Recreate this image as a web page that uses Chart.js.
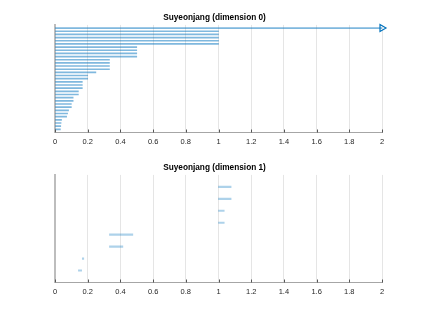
<!DOCTYPE html>
<html>
<head>
<meta charset="utf-8">
<script src="https://cdn.jsdelivr.net/npm/chart.js@4"></script>
<style>
  body { margin: 0; background: #fff; }
  .box { position: absolute; left: 0; width: 422px; }
  #b0 { top: 0; height: 158px; }
  #b1 { top: 158px; height: 159px; }
</style>
</head>
<body>
<div class="box" id="b0"><canvas id="dim0"></canvas></div>
<div class="box" id="b1"><canvas id="dim1"></canvas></div>
<script>
// barcode data
let titre = 'Suyeonjang';
let xTicks = [0, 0.2, 0.4, 0.6, 0.8, 1, 1.2, 1.4, 1.6, 1.8, 2];

let dim0Birth = [0,0,0,0,0,0,0,0,0,0,0,0,0,0,0,0,0,0,0,0,0,0,0,0,0,0,0,0,0,0,0,0,0];
let dim0Death = [Infinity, 1, 1, 1, 1, 1, 0.5, 0.5, 0.5, 0.5, 0.333, 0.333, 0.333, 0.333,
                 0.25, 0.2, 0.2, 0.167, 0.167, 0.167, 0.143, 0.143, 0.111, 0.111, 0.1, 0.1,
                 0.083, 0.077, 0.071, 0.04, 0.037, 0.035, 0.033];

let dim1Birth = [1, 1, 1, 1, 0.333, 0.333, 0.167, 0.143];
let dim1Death = [1.077, 1.077, 1.035, 1.035, 0.476, 0.415, 0.176, 0.163];

let xMax = xTicks[xTicks.length - 1];
let bleu = '#0072BD';

// petites graduations vers l'intérieur, comme dans matlab
let ticksInterieurs = {
    id: 'ticksInterieurs',
    afterDraw(chart) {
        let c = chart.ctx, x = chart.scales.x, a = chart.chartArea;
        c.save();
        c.strokeStyle = '#555';
        c.lineWidth = 1;
        xTicks.forEach(function(t) {
            let px = Math.round(x.getPixelForValue(t)) + 0.5;
            c.beginPath();
            c.moveTo(px, a.bottom);
            c.lineTo(px, a.bottom - 3);
            c.stroke();
        });
        c.restore();
    }
};

function createBarcode(ctx, births, deaths, dim, couleur, epaisseur, pad) {
    let bars = births.map(function(b, i) {
        let d = deaths[i] === Infinity ? xMax : deaths[i];
        return { x: [b, d], y: i + 1 };
    });
    let datasets = [{
        type: 'bar',
        data: bars,
        backgroundColor: couleur,
        borderWidth: 0,
        barThickness: epaisseur
    }];
    // flèche pour les barres infinies
    let infinis = [];
    deaths.forEach(function(d, i) {
        if (d === Infinity) infinis.push({ x: xMax, y: i + 1 });
    });
    if (infinis.length) {
        datasets.push({
            type: 'scatter',
            data: infinis,
            clip: false,
            pointStyle: 'triangle',
            rotation: 90,
            radius: 4,
            borderColor: bleu,
            backgroundColor: 'rgba(255,255,255,0)',
            borderWidth: 1.2
        });
    }
    return new Chart(ctx, {
        type: 'bar',
        data: { datasets: datasets },
        plugins: [ticksInterieurs],
        options: {
            animation: false,
            responsive: true,
            maintainAspectRatio: false,
            indexAxis: 'y',
            layout: { padding: pad },
            plugins: {
                legend: { display: false },
                tooltip: { enabled: false },
                title: {
                    display: true,
                    text: titre + ' (dimension ' + dim + ')',
                    color: '#000',
                    font: { family: 'Liberation Sans', size: 8.25, weight: 'bold' },
                    padding: { top: 0, bottom: 2 }
                }
            },
            scales: {
                x: {
                    type: 'linear',
                    min: 0,
                    max: xMax,
                    afterBuildTicks: function(s) { s.ticks = xTicks.map(v => ({ value: v })); },
                    grid: { color: '#e5e5e5', drawTicks: false },
                    border: { color: '#a6a6a6', width: 1 },
                    ticks: {
                        color: '#262626',
                        padding: 5,
                        font: { family: 'Liberation Sans', size: 7.5 },
                        callback: function(v) { return String(Math.round(v * 10) / 10); }
                    }
                },
                y: {
                    type: 'linear',
                    min: 0,
                    max: births.length + 1,
                    reverse: true,
                    offset: false,
                    grid: { display: false },
                    border: { color: '#bdbdbd', width: 2 },
                    ticks: { display: false }
                }
            }
        }
    });
}

createBarcode(document.getElementById('dim0'), dim0Birth, dim0Death, 0, 'rgba(0,114,189,0.5)', 1, { left: 47, right: 40, top: 13, bottom: 6.5 });
createBarcode(document.getElementById('dim1'), dim1Birth, dim1Death, 1, 'rgba(0,114,189,0.32)', 1.5, { left: 47, right: 40, top: 5, bottom: 15.5 });
</script>
</body>
</html>
